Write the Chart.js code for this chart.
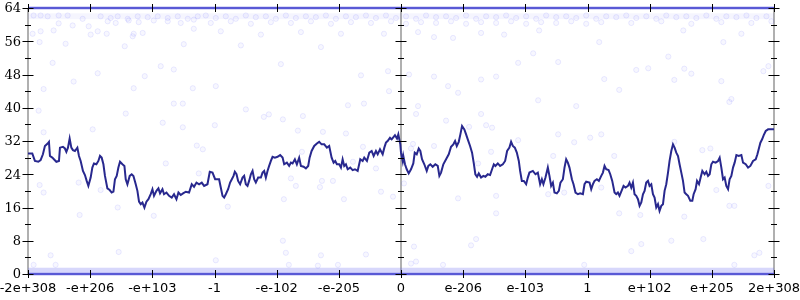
<!DOCTYPE html>
<html>
<head>
<meta charset="utf-8">
<script src="https://cdn.jsdelivr.net/npm/chart.js@4.4.1/dist/chart.umd.min.js"></script>
<style>
  html, body { margin: 0; padding: 0; background: #fff; }
  #wrap { width: 800px; height: 300px; }
</style>
</head>
<body>
<div id="wrap"><canvas id="chart" width="800" height="300"></canvas></div>
<script>
// ---- data (x in tick units: -6 .. 6, y in bits) ----
const xTickLabels = ['-2e+308', '-e+206', '-e+103', '-1', '-e-102', '-e-205', '0',
                     'e-206', 'e-103', '1', 'e+102', 'e+205', '2e+308'];
const yMajorTicks = [0, 8, 16, 24, 32, 40, 48, 56, 64];
const yMinorTicks = [4, 12, 20, 28, 36, 44, 52, 60];
const edgeRows    = [0, 64];   // saturated rows of samples
const lowBandRow  = 0.9;       // dense band just above zero
const highBandRow = 62.0;      // dense band just below 64

// moving average of error bits
const trend = [
  [-6.0,29.0],[-5.931,29.0],[-5.889,27.2],[-5.834,27.0],[-5.797,27.4],[-5.760,28.8],[-5.728,30.8],[-5.684,31.4],
  [-5.663,31.8],[-5.647,28.4],[-5.609,28.0],[-5.583,27.6],[-5.544,27.0],[-5.502,27.2],[-5.486,30.4],[-5.438,30.6],
  [-5.406,30.2],[-5.383,29.4],[-5.357,30.4],[-5.330,32.6],[-5.303,30.4],[-5.277,29.8],[-5.245,29.6],[-5.206,30.4],
  [-5.180,28.4],[-5.153,27.2],[-5.116,24.8],[-5.084,23.8],[-5.056,22.4],[-5.029,21.2],[-4.992,23.2],[-4.965,25.6],
  [-4.939,26.6],[-4.900,26.4],[-4.868,27.2],[-4.842,28.4],[-4.815,28.0],[-4.787,26.4],[-4.762,23.6],[-4.723,20.6],
  [-4.686,20.2],[-4.654,19.6],[-4.626,19.8],[-4.601,22.8],[-4.573,23.6],[-4.546,25.6],[-4.520,27.0],[-4.481,26.4],
  [-4.449,26.0],[-4.428,22.8],[-4.401,21.6],[-4.364,23.6],[-4.332,24.0],[-4.304,23.6],[-4.267,21.6],[-4.240,20.0],
  [-4.214,17.4],[-4.187,16.8],[-4.159,17.2],[-4.127,16.0],[-4.095,17.4],[-4.063,18.0],[-4.026,19.2],[-3.998,20.4],
  [-3.973,18.8],[-3.934,20.0],[-3.902,20.6],[-3.876,19.4],[-3.837,20.4],[-3.812,19.2],[-3.773,19.6],[-3.731,18.8],
  [-3.688,18.4],[-3.651,19.2],[-3.612,18.0],[-3.580,19.6],[-3.543,19.0],[-3.506,19.4],[-3.462,19.8],[-3.409,19.6],
  [-3.366,21.6],[-3.329,21.0],[-3.290,22.0],[-3.248,21.6],[-3.205,22.0],[-3.167,21.2],[-3.113,21.6],[-3.076,24.6],
  [-3.032,24.4],[-2.990,22.8],[-2.963,22.8],[-2.926,22.8],[-2.899,20.8],[-2.871,18.8],[-2.845,18.4],[-2.818,19.2],
  [-2.781,20.4],[-2.749,22.0],[-2.721,22.8],[-2.694,23.6],[-2.673,24.6],[-2.646,24.0],[-2.620,22.4],[-2.588,21.6],
  [-2.549,23.2],[-2.523,23.6],[-2.496,21.6],[-2.469,21.2],[-2.443,22.4],[-2.415,24.0],[-2.388,24.8],[-2.362,22.8],
  [-2.335,22.0],[-2.298,23.2],[-2.254,23.2],[-2.227,24.4],[-2.201,24.8],[-2.174,23.2],[-2.147,24.8],[-2.121,26.0],
  [-2.093,27.2],[-2.066,28.2],[-2.029,28.0],[-1.986,28.2],[-1.944,28.6],[-1.905,28.0],[-1.879,26.4],[-1.836,26.8],
  [-1.799,26.0],[-1.771,26.8],[-1.744,26.6],[-1.707,27.6],[-1.675,26.4],[-1.638,28.0],[-1.610,26.0],[-1.567,25.8],
  [-1.530,25.4],[-1.493,26.0],[-1.470,28.0],[-1.438,29.6],[-1.396,30.8],[-1.353,31.4],[-1.316,31.8],[-1.277,31.2],
  [-1.235,31.2],[-1.192,30.4],[-1.155,30.8],[-1.116,28.0],[-1.084,26.8],[-1.058,27.2],[-1.031,26.4],[-0.994,26.4],
  [-0.966,25.6],[-0.939,27.6],[-0.913,26.0],[-0.886,26.4],[-0.858,25.2],[-0.816,25.6],[-0.778,25.0],[-0.741,25.2],
  [-0.697,24.8],[-0.655,27.6],[-0.617,27.2],[-0.591,28.0],[-0.548,27.2],[-0.510,29.2],[-0.472,29.6],[-0.440,28.4],
  [-0.403,29.6],[-0.375,28.8],[-0.338,30.0],[-0.295,28.8],[-0.268,30.4],[-0.242,31.6],[-0.215,32.0],[-0.177,32.8],
  [-0.150,32.4],[-0.118,33.0],[-0.097,33.4],[-0.064,32.6],[-0.043,33.6],[-0.011,31.2],[0.000,29.2],[0.027,27.2],
  [0.037,28.4],[0.064,26.4],[0.092,25.2],[0.124,24.2],[0.161,25.2],[0.198,26.6],[0.221,29.2],[0.253,28.8],
  [0.285,30.2],[0.311,29.6],[0.338,27.6],[0.375,26.4],[0.414,24.8],[0.440,26.0],[0.472,26.4],[0.510,25.8],
  [0.552,26.4],[0.591,26.0],[0.617,23.6],[0.644,24.4],[0.681,26.4],[0.725,27.6],[0.768,28.8],[0.805,30.6],
  [0.842,31.2],[0.870,32.0],[0.897,30.8],[0.929,31.8],[0.955,33.6],[0.982,35.6],[1.019,34.8],[1.047,33.6],
  [1.074,32.4],[1.111,30.8],[1.143,29.2],[1.171,26.6],[1.196,24.0],[1.224,23.4],[1.251,24.2],[1.288,23.2],
  [1.325,23.6],[1.357,23.4],[1.396,24.0],[1.433,23.8],[1.465,25.2],[1.493,26.4],[1.518,26.0],[1.557,26.6],
  [1.594,26.0],[1.638,26.4],[1.675,27.2],[1.707,29.6],[1.744,30.4],[1.771,31.8],[1.799,30.8],[1.831,30.4],
  [1.863,29.2],[1.895,27.2],[1.916,24.8],[1.944,22.4],[1.976,22.4],[2.013,21.6],[2.040,23.2],[2.066,24.4],
  [2.121,24.8],[2.163,24.0],[2.201,24.4],[2.238,21.6],[2.266,22.8],[2.291,21.6],[2.324,23.2],[2.362,25.6],
  [2.388,23.6],[2.415,21.2],[2.443,22.0],[2.469,19.6],[2.507,19.4],[2.539,20.0],[2.565,22.0],[2.604,22.8],
  [2.630,25.6],[2.657,27.6],[2.684,26.8],[2.710,25.6],[2.749,22.8],[2.775,21.6],[2.807,19.6],[2.846,19.2],
  [2.882,19.4],[2.926,19.2],[2.952,21.6],[2.979,22.2],[3.033,22.0],[3.060,20.4],[3.087,21.6],[3.113,22.4],
  [3.151,22.8],[3.183,22.4],[3.221,23.6],[3.248,24.4],[3.274,26.0],[3.301,25.2],[3.339,25.0],[3.366,24.0],
  [3.398,22.4],[3.435,19.6],[3.462,19.2],[3.489,19.6],[3.515,18.8],[3.559,20.4],[3.580,21.2],[3.612,20.8],
  [3.651,21.2],[3.676,22.0],[3.704,20.8],[3.731,22.0],[3.757,19.2],[3.784,18.8],[3.812,18.0],[3.838,16.4],
  [3.865,17.2],[3.892,19.2],[3.918,20.0],[3.945,22.0],[3.973,22.4],[3.998,21.2],[4.026,21.6],[4.053,19.2],
  [4.079,18.4],[4.106,16.0],[4.134,16.8],[4.159,15.2],[4.187,16.4],[4.214,16.8],[4.240,20.0],[4.267,21.6],
  [4.295,24.4],[4.320,27.2],[4.348,29.6],[4.375,31.2],[4.401,30.4],[4.428,29.2],[4.456,28.4],[4.481,26.4],
  [4.509,24.4],[4.536,22.4],[4.562,19.6],[4.589,19.2],[4.617,18.8],[4.654,17.6],[4.686,17.6],[4.707,19.2],
  [4.739,20.4],[4.762,22.4],[4.794,21.6],[4.820,23.2],[4.847,24.8],[4.884,24.0],[4.911,24.6],[4.939,23.6],
  [4.965,24.0],[4.992,26.4],[5.019,27.0],[5.061,26.8],[5.100,27.2],[5.126,28.0],[5.153,25.6],[5.180,22.8],
  [5.206,23.2],[5.233,21.2],[5.261,20.4],[5.286,22.8],[5.314,23.6],[5.341,25.6],[5.367,26.8],[5.395,28.6],
  [5.432,28.4],[5.475,28.6],[5.502,26.8],[5.545,26.4],[5.583,25.6],[5.620,26.0],[5.663,27.2],[5.706,27.6],
  [5.733,28.8],[5.760,30.4],[5.781,31.6],[5.809,32.4],[5.835,33.4],[5.867,34.4],[5.905,34.8],[5.958,34.8],
  [6.0,34.8]
];

// individual samples, upper rows
const cloudTop = [
  [-5.910,62.2],[-5.797,62.2],[-5.684,62.0],[-5.507,62.2],[-5.362,62.2],[-5.121,61.4],[-5.507,60.3],[-5.024,59.6],
  [-5.282,59.8],[-5.588,58.6],[-5.797,58.4],[-5.926,57.8],[-5.813,55.8],[-5.395,55.4],[-5.604,50.8],[-4.992,57.6],
  [-4.879,58.4],[-4.734,57.8],[-4.879,48.3],[-5.266,46.3],[-5.749,44.5],[-4.444,54.8],[-4.300,57.8],[-4.155,58.0],
  [-4.316,57.2],[-4.122,47.6],[-3.865,50.0],[-3.655,49.2],[-3.494,55.3],[-3.333,59.0],[-3.349,44.7],[-4.300,44.7],
  [-4.831,62.0],[-4.670,61.6],[-4.557,62.0],[-4.396,61.4],[-4.235,62.0],[-4.074,61.8],[-3.913,62.0],[-3.752,61.6],
  [-3.591,62.0],[-3.430,61.4],[-3.269,62.0],[-4.718,60.8],[-4.589,60.4],[-4.380,61.0],[-4.219,60.6],[-3.977,61.0],
  [-3.752,60.8],[-3.543,60.4],[-3.333,61.2],
  [-3.140,62.2],[-2.979,61.6],[-2.818,62.0],[-2.657,61.4],[-2.496,62.2],[-2.335,61.8],[-2.174,62.0],[-2.013,61.4],
  [-1.852,62.2],[-1.691,61.6],[-1.530,62.0],[-1.369,61.8],[-1.208,62.2],[-1.047,61.4],[-0.886,62.0],[-0.725,61.8],
  [-0.564,62.2],[-0.403,61.6],[-3.060,60.4],[-2.738,60.8],[-2.415,60.2],[-2.093,60.6],[-1.771,60.4],[-1.449,60.8],
  [-1.127,60.2],[-0.805,60.6],[-0.483,60.4],[-2.899,58.4],[-2.254,57.6],[-1.610,58.2],[-0.966,57.8],[-2.576,55.0],
  [-1.288,54.6],[-1.932,50.5],[-0.644,47.8],[-2.979,45.2],
  [-0.242,62.2],[-0.081,61.6],[0.081,62.0],[0.242,61.4],[0.403,62.2],[0.564,61.8],[0.725,62.0],[0.886,61.6],
  [1.047,62.2],[1.208,61.4],[1.369,62.0],[1.530,61.8],[1.691,62.2],[1.852,61.6],[2.013,62.0],[2.174,61.4],
  [2.335,62.2],[2.496,61.8],[2.657,62.0],[2.818,61.6],[2.979,62.2],[3.140,61.4],[3.301,62.0],[3.462,61.8],
  [3.623,62.2],[3.784,61.6],[3.945,62.0],[4.106,61.4],[4.267,62.2],[4.428,61.8],[4.589,62.0],[4.750,61.6],
  [4.911,62.2],[5.072,61.4],[5.233,62.0],[5.395,61.8],[5.556,62.2],[5.717,61.6],[5.878,62.0],
  [-0.161,60.8],[0.081,60.2],[0.322,60.6],[0.564,60.4],[0.805,60.8],[1.047,60.2],[1.288,60.6],[1.530,60.4],
  [1.771,60.8],[2.013,60.2],[2.254,60.6],[2.496,60.4],[2.738,60.8],[2.979,60.2],[3.221,60.6],[3.704,60.4],
  [4.187,60.8],[4.670,60.2],[5.153,60.6],[5.636,60.4],[5.958,60.8],
  [-0.274,57.8],[0.274,58.2],[0.531,57.0],[0.837,56.8],[1.288,58.0],[1.659,57.6],[2.222,58.6],[3.188,55.8],
  [5.185,55.8],[5.475,57.8],[4.541,58.6],[2.126,53.1],[2.528,51.0],[1.884,50.8],[4.300,52.3],[3.784,49.1],
  [3.977,49.5],[4.557,49.4],[4.670,48.2],[-0.209,48.8],[0.129,48.0],[0.531,47.5],[1.288,46.8],[1.530,47.5],
  [3.269,46.9],[4.396,46.7],[5.153,46.4],[5.829,48.8],[5.910,50.0],[0.757,45.2],[0.918,43.6],[3.510,44.3],
  [5.314,42.1],[-0.193,44.0]
];

// individual samples, middle of the range
const cloudMid = [
  [-5.829,39.3],[-5.749,34.1],[-5.813,21.4],[-5.749,19.6],[-5.169,14.2],[-4.960,34.8],[-5.185,22.0],[-4.831,20.2],
  [-4.428,38.6],[-4.557,16.0],[-3.784,26.6],[-3.833,36.4],[-3.655,41.0],[-3.510,41.0],[-3.510,35.3],[-3.285,30.9],
  [-3.188,30.0],[-3.253,24.2],[-2.995,35.8],[-2.496,39.6],[-2.206,37.8],[-2.126,38.4],[-1.900,37.2],[-1.659,34.5],
  [-1.578,38.0],[-1.594,29.4],[-1.771,23.0],[-1.691,21.2],[-1.272,22.4],[-1.304,20.9],[-1.256,34.2],[-1.095,22.4],
  [-0.886,33.8],[-0.773,27.0],[-0.612,30.6],[-0.403,25.4],[-0.596,41.0],[-0.853,40.6],[-0.322,19.8],[-0.918,18.0],
  [-0.129,18.6],[-2.786,16.2],[-1.884,18.0],[-3.977,14.0],
  [0.274,40.4],[0.242,38.5],[1.288,38.5],[0.725,36.9],[1.369,35.8],[1.465,35.2],[1.095,35.4],[0.531,30.8],
  [0.193,31.3],[0.161,30.2],[1.449,29.4],[1.240,26.6],[1.884,32.2],[2.528,33.6],[2.786,31.7],[3.043,32.8],
  [3.221,33.6],[2.448,28.4],[3.430,28.4],[2.818,40.4],[2.206,41.8],[5.282,41.4],[4.847,29.8],[4.976,30.2],
  [4.396,31.8],[0.048,21.8],[0.918,18.2],[1.530,18.8],[2.367,19.2],[2.625,19.6],[3.221,20.8],[3.510,14.6],
  [3.849,14.2],[4.557,13.8],[5.282,16.4],[5.362,16.4],[5.072,20.2],[5.910,21.2],[1.530,14.6]
];

// individual samples, lower rows
const cloudLow = [
  [-5.636,4.5],[-4.541,5.3],[-2.979,3.3],[-1.900,8.0],[-1.852,5.1],[-1.288,4.5],[-0.564,4.7],[-1.337,2.0],
  [-1.804,2.2],[-5.910,2.2],[-5.556,2.2],[-1.014,2.2],[0.209,6.6],[1.127,6.9],[1.208,8.4],[0.161,2.5],
  [0.242,3.0],[0.676,2.2],[2.947,2.2],[3.704,5.5],[3.865,7.2],[4.348,8.0],[5.684,4.5],[5.765,5.1],
  [5.362,2.2],[4.863,8.4]
];

// ---- helpers ----
const toPts = arr => arr.map(([x, y]) => ({ x, y }));
const rowPts = y => [{ x: -6, y }, { x: 6, y }];

const AXIS_GREY = '#b0b0b0';
const NAVY      = '#28288e';

// axes with ticks that cross the axis lines (gnuplot style)
const crossAxes = {
  id: 'crossAxes',
  beforeDatasetsDraw(chart) {
    const { ctx, chartArea: a, scales: { x } } = chart;
    ctx.save();
    ctx.strokeStyle = AXIS_GREY;
    ctx.lineWidth = 2;
    const xm = x.getPixelForValue(0);
    ctx.beginPath();
    ctx.moveTo(a.left, a.top);   ctx.lineTo(a.left, a.bottom);
    ctx.moveTo(a.right, a.top);  ctx.lineTo(a.right, a.bottom);
    ctx.moveTo(xm, a.top);       ctx.lineTo(xm, a.bottom);
    ctx.moveTo(a.left, a.top);   ctx.lineTo(a.right, a.top);
    ctx.moveTo(a.left, a.bottom); ctx.lineTo(a.right, a.bottom);
    ctx.stroke();
    ctx.restore();
  },
  afterDatasetsDraw(chart) {
    const { ctx, chartArea: a, scales: { x, y } } = chart;
    const cols = [a.left, x.getPixelForValue(0), a.right];
    ctx.save();
    ctx.strokeStyle = '#000';
    ctx.lineWidth = 1;
    ctx.beginPath();
    yMajorTicks.forEach(v => {
      const py = Math.round(y.getPixelForValue(v)) + 0.5;
      cols.forEach(cx => { ctx.moveTo(cx - 5.5, py); ctx.lineTo(cx + 5.5, py); });
    });
    yMinorTicks.forEach(v => {
      const py = Math.round(y.getPixelForValue(v)) + 0.5;
      cols.forEach(cx => { ctx.moveTo(cx - 3, py); ctx.lineTo(cx + 3, py); });
    });
    xTickLabels.forEach((_, i) => {
      const px = Math.round(x.getPixelForValue(i - 6)) + 0.5;
      ctx.moveTo(px, a.bottom - 4); ctx.lineTo(px, a.bottom + 4);
      ctx.moveTo(px, a.top - 4);    ctx.lineTo(px, a.top + 4);
    });
    ctx.stroke();

    ctx.fillStyle = '#000';
    ctx.font = '13px "DejaVu Serif"';
    ctx.textAlign = 'right';
    ctx.textBaseline = 'middle';
    yMajorTicks.forEach(v => ctx.fillText(String(v), a.left - 7, y.getPixelForValue(v) + 1));

    ctx.font = '13px "DejaVu Sans"';
    ctx.textAlign = 'center';
    ctx.textBaseline = 'top';
    xTickLabels.forEach((lab, i) => ctx.fillText(lab, x.getPixelForValue(i - 6), a.bottom + 8));
    ctx.restore();
  }
};

const cloudStyle = {
  showLine: false,
  pointRadius: 2.6,
  pointBackgroundColor: 'rgba(70,70,255,0.045)',
  pointBorderColor: 'rgba(70,70,255,0.10)',
  pointBorderWidth: 1,
  clip: 4,
};

const bandLine = (y, color, width) => ({
  data: rowPts(y), showLine: true, borderColor: color, borderWidth: width, pointRadius: 0, clip: 4,
});

new Chart(document.getElementById('chart'), {
  type: 'scatter',
  data: {
    datasets: [
      { label: 'trend', data: toPts(trend), showLine: true, borderColor: NAVY, borderWidth: 2,
        pointRadius: 0, tension: 0, clip: 2 },
      { label: 'top', data: toPts(cloudTop), ...cloudStyle },
      { label: 'mid', data: toPts(cloudMid), ...cloudStyle },
      { label: 'low', data: toPts(cloudLow), ...cloudStyle },
      { label: 'edge0',  ...bandLine(edgeRows[0], 'rgba(60,60,225,0.75)', 2.5) },
      { label: 'edge64', ...bandLine(edgeRows[1], 'rgba(60,60,225,0.75)', 2.5) },
      { label: 'lowBand',  ...bandLine(lowBandRow,  'rgba(110,110,240,0.28)', 5) },
      { label: 'highBand', ...bandLine(highBandRow, 'rgba(110,110,240,0.07)', 6) },
    ]
  },
  options: {
    responsive: false,
    animation: false,
    devicePixelRatio: 1,
    layout: { padding: { left: 28, right: 26, top: 8, bottom: 26 } },
    plugins: { legend: { display: false }, tooltip: { enabled: false } },
    scales: {
      x: { type: 'linear', min: -6, max: 6, display: false },
      y: { type: 'linear', min: 0, max: 64, display: false },
    }
  },
  plugins: [crossAxes]
});
</script>
</body>
</html>
